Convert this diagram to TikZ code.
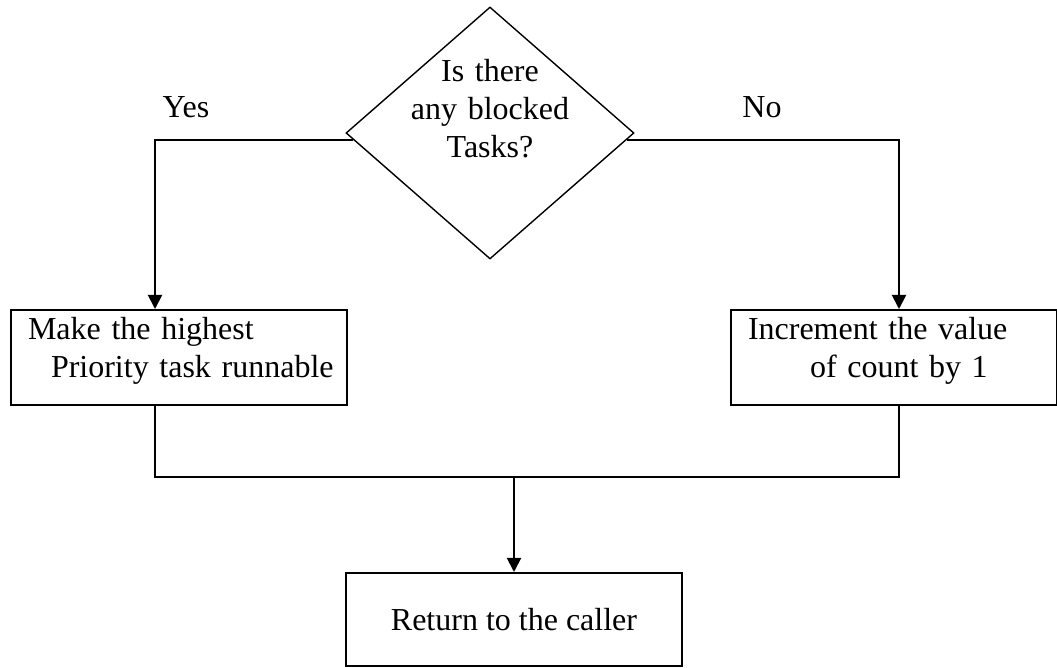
\documentclass[tikz,border=0pt]{standalone}
\usepackage{fontspec}
\setmainfont{Liberation Serif}
\usetikzlibrary{arrows.meta, shapes.geometric}

\tikzset{
  box/.style={draw, line width=1pt, rectangle, align=left, anchor=north west,
    inner xsep=8.5pt, inner ysep=4pt, text height=11pt, text depth=28.5pt},
  arr/.style={line width=1pt, -{Triangle[length=7pt,width=7pt]}},
  wire/.style={line width=1pt},
}

\begin{document}
\begin{tikzpicture}[x=0.5pt, y=-0.5pt, font=\fontsize{16}{19}\selectfont]
        \useasboundingbox (0,0) rectangle (1057,668);

        % decision
        \node[diamond, draw, line width=0.7pt, minimum width=144pt, minimum height=126pt, inner sep=0pt] (dec) at (490,133) {};
        \node[align=center, text width=100pt, anchor=base] (ask) at (490,82) {Is there\\any blocked\\Tasks?};

        \node[anchor=base] (yes) at (186,118) {Yes};
        \node[anchor=base] (no) at (762,118) {No};

        % actions
        \node[box, text width=151pt] (make) at (10,309) {\mbox{Make the highest}\\\hspace*{11.5pt}\mbox{Priority task runnable}};
        \node[box, text width=146pt] (inc) at (730,309) {\mbox{Increment the value}\\\hspace*{31pt}\mbox{of count by 1}};
        \node[draw, line width=1pt, minimum width=168pt, minimum height=46.5pt] (ret) at (514,619.5) {Return to the caller};

        \draw[arr] (dec.183) -| ([xshift=-12pt]make.north);
        \draw[arr] (dec.-3) -| ([xshift=2.5pt]inc.north);

        \coordinate (join) at (514,477);
        \draw[wire] ([xshift=-12pt]make.south) |- (join) -| ([xshift=2.5pt]inc.south);
        \draw[arr] (join) -- (ret.north);

\end{tikzpicture}
\end{document}
